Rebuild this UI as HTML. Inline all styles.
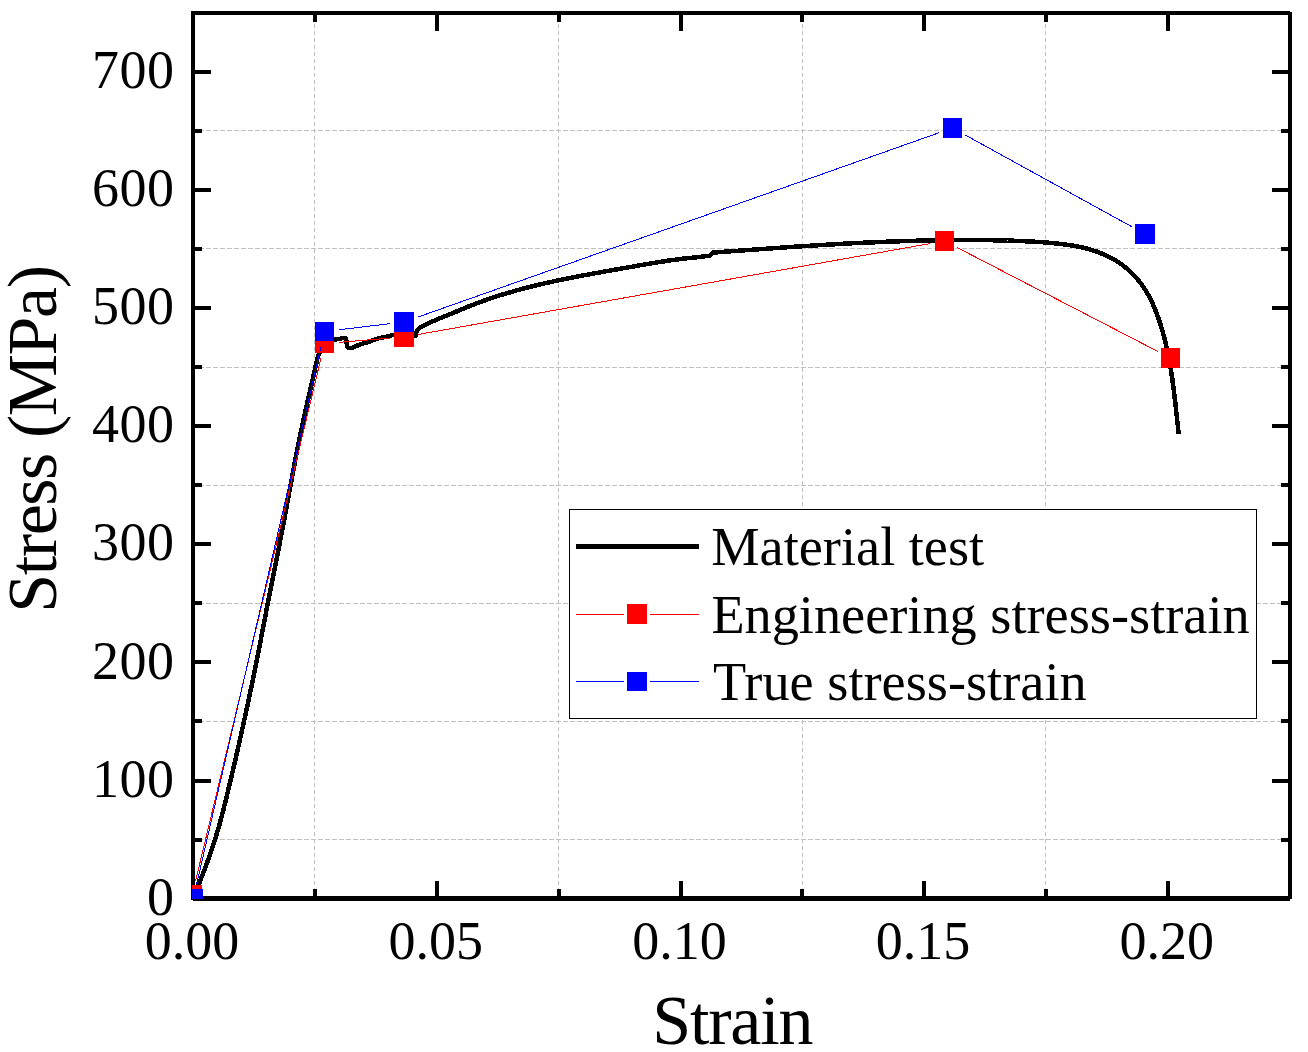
<!DOCTYPE html>
<html><head><meta charset="utf-8"><style>
html,body{margin:0;padding:0;background:#fff;}
svg{display:block;}
text{font-family:"Liberation Serif",serif;fill:#000;}
</style></head><body>
<svg width="1308" height="1052" viewBox="0 0 1308 1052">
<defs><clipPath id="c"><rect x="192" y="12" width="1098" height="887"/></clipPath></defs>
<rect width="1308" height="1052" fill="#fff"/>
<g stroke="#c0c0c0" stroke-width="1" stroke-dasharray="5 2" shape-rendering="crispEdges"><line x1="192" y1="130.5" x2="1289" y2="130.5"/><line x1="192" y1="248.5" x2="1289" y2="248.5"/><line x1="192" y1="367.5" x2="1289" y2="367.5"/><line x1="192" y1="485.5" x2="1289" y2="485.5"/><line x1="192" y1="603.5" x2="1289" y2="603.5"/><line x1="192" y1="721.5" x2="1289" y2="721.5"/><line x1="192" y1="839.5" x2="1289" y2="839.5"/></g>
<g stroke="#c0c0c0" stroke-width="1" stroke-dasharray="4 3.027" shape-rendering="crispEdges"><line x1="314.5" y1="16.973" x2="314.5" y2="896"/><line x1="558.5" y1="16.973" x2="558.5" y2="896"/><line x1="802.5" y1="16.973" x2="802.5" y2="896"/><line x1="1045.5" y1="16.973" x2="1045.5" y2="896"/></g>
<g shape-rendering="crispEdges"><rect x="191" y="11" width="4" height="889" fill="#000"/><rect x="1288" y="12" width="4" height="887" fill="#000"/><rect x="191" y="11" width="1099" height="4" fill="#000"/><rect x="193" y="896" width="1097" height="5" fill="#000"/><rect x="195" y="837.56" width="7" height="4" fill="#000"/><rect x="1281" y="837.56" width="7" height="4" fill="#000"/><rect x="195" y="778.52" width="16" height="4" fill="#000"/><rect x="1272" y="778.52" width="16" height="4" fill="#000"/><rect x="195" y="719.48" width="7" height="4" fill="#000"/><rect x="1281" y="719.48" width="7" height="4" fill="#000"/><rect x="195" y="660.43" width="16" height="4" fill="#000"/><rect x="1272" y="660.43" width="16" height="4" fill="#000"/><rect x="195" y="601.39" width="7" height="4" fill="#000"/><rect x="1281" y="601.39" width="7" height="4" fill="#000"/><rect x="195" y="542.35" width="16" height="4" fill="#000"/><rect x="1272" y="542.35" width="16" height="4" fill="#000"/><rect x="195" y="483.31" width="7" height="4" fill="#000"/><rect x="1281" y="483.31" width="7" height="4" fill="#000"/><rect x="195" y="424.27" width="16" height="4" fill="#000"/><rect x="1272" y="424.27" width="16" height="4" fill="#000"/><rect x="195" y="365.23" width="7" height="4" fill="#000"/><rect x="1281" y="365.23" width="7" height="4" fill="#000"/><rect x="195" y="306.18" width="16" height="4" fill="#000"/><rect x="1272" y="306.18" width="16" height="4" fill="#000"/><rect x="195" y="247.14" width="7" height="4" fill="#000"/><rect x="1281" y="247.14" width="7" height="4" fill="#000"/><rect x="195" y="188.10" width="16" height="4" fill="#000"/><rect x="1272" y="188.10" width="16" height="4" fill="#000"/><rect x="195" y="129.06" width="7" height="4" fill="#000"/><rect x="1281" y="129.06" width="7" height="4" fill="#000"/><rect x="195" y="70.02" width="16" height="4" fill="#000"/><rect x="1272" y="70.02" width="16" height="4" fill="#000"/><rect x="313.16" y="889" width="4" height="7" fill="#000"/><rect x="313.16" y="15" width="4" height="7" fill="#000"/><rect x="435.00" y="881" width="4" height="15" fill="#000"/><rect x="435.00" y="15" width="4" height="16" fill="#000"/><rect x="556.83" y="889" width="4" height="7" fill="#000"/><rect x="556.83" y="15" width="4" height="7" fill="#000"/><rect x="678.66" y="881" width="4" height="15" fill="#000"/><rect x="678.66" y="15" width="4" height="16" fill="#000"/><rect x="800.49" y="889" width="4" height="7" fill="#000"/><rect x="800.49" y="15" width="4" height="7" fill="#000"/><rect x="922.33" y="881" width="4" height="15" fill="#000"/><rect x="922.33" y="15" width="4" height="16" fill="#000"/><rect x="1044.16" y="889" width="4" height="7" fill="#000"/><rect x="1044.16" y="15" width="4" height="7" fill="#000"/><rect x="1165.99" y="881" width="4" height="15" fill="#000"/><rect x="1165.99" y="15" width="4" height="16" fill="#000"/></g>
<g clip-path="url(#c)">
<path d="M193.3,898.6 L194.2,895.6 L195.4,892.6 L196.7,889.6 L197.9,886.6 L199.1,883.6 L200.3,880.6 L201.4,877.6 L202.6,874.6 L203.8,871.6 L204.9,868.6 L206.0,865.6 L207.1,862.6 L208.2,859.6 L209.3,856.6 L210.4,853.6 L211.4,850.6 L212.4,847.6 L213.4,844.6 L214.4,841.6 L215.3,838.6 L216.2,835.6 L217.1,832.6 L218.0,829.6 L218.9,826.6 L219.7,823.6 L220.5,820.6 L221.3,817.6 L222.1,814.6 L222.9,811.6 L223.7,808.6 L224.4,805.6 L225.2,802.6 L225.9,799.6 L226.7,796.6 L227.4,793.6 L228.1,790.6 L228.8,787.6 L229.5,784.6 L230.3,781.6 L231.0,778.6 L231.7,775.6 L232.4,772.6 L233.1,769.6 L233.8,766.6 L234.5,763.6 L235.2,760.6 L235.9,757.6 L236.5,754.6 L237.2,751.6 L237.9,748.6 L238.6,745.6 L239.3,742.6 L239.9,739.6 L240.6,736.6 L241.3,733.6 L241.9,730.6 L242.6,727.6 L243.3,724.6 L243.9,721.6 L244.6,718.6 L245.2,715.6 L245.9,712.6 L246.5,709.6 L247.2,706.6 L247.8,703.6 L248.4,700.6 L249.1,697.6 L249.7,694.6 L250.3,691.6 L251.0,688.6 L251.6,685.6 L252.2,682.6 L252.8,679.6 L253.4,676.6 L254.0,673.6 L254.7,670.6 L255.3,667.6 L255.9,664.6 L256.5,661.6 L257.1,658.6 L257.7,655.6 L258.2,652.6 L258.8,649.6 L259.4,646.6 L260.0,643.6 L260.6,640.6 L261.2,637.6 L261.7,634.6 L262.3,631.6 L262.9,628.6 L263.5,625.6 L264.0,622.6 L264.6,619.6 L265.2,616.6 L265.8,613.6 L266.3,610.6 L266.9,607.6 L267.5,604.6 L268.1,601.6 L268.7,598.6 L269.2,595.6 L269.8,592.6 L270.4,589.6 L271.0,586.6 L271.6,583.6 L272.2,580.6 L272.8,577.6 L273.4,574.6 L274.0,571.6 L274.6,568.6 L275.2,565.6 L275.8,562.6 L276.4,559.6 L277.0,556.6 L277.6,553.6 L278.2,550.6 L278.8,547.6 L279.4,544.6 L279.9,541.6 L280.5,538.6 L281.1,535.6 L281.7,532.6 L282.3,529.6 L282.9,526.6 L283.4,523.6 L284.0,520.6 L284.6,517.6 L285.1,514.6 L285.7,511.6 L286.2,508.6 L286.8,505.6 L287.3,502.6 L287.9,499.6 L288.4,496.6 L289.0,493.6 L289.5,490.6 L290.1,487.6 L290.6,484.6 L291.2,481.6 L291.8,478.6 L292.3,475.6 L292.9,472.6 L293.4,469.6 L294.0,466.6 L294.6,463.6 L295.1,460.6 L295.7,457.6 L296.3,454.6 L296.9,451.6 L297.5,448.6 L298.1,445.6 L298.7,442.6 L299.3,439.6 L299.9,436.6 L300.5,433.6 L301.2,430.6 L301.8,427.6 L302.5,424.6 L303.1,421.6 L303.8,418.6 L304.4,415.6 L305.1,412.6 L305.8,409.6 L306.4,406.6 L307.1,403.6 L307.8,400.6 L308.5,397.6 L309.2,394.6 L309.9,391.6 L310.5,388.6 L311.2,385.6 L311.9,382.6 L312.6,379.6 L313.3,376.6 L314.0,373.6 L314.6,370.6 L315.3,367.6 L316.0,364.6 L316.7,361.6 L317.4,358.6 L318.0,355.6 L322.0,349.5 L325.5,345.0 L329.5,341.8 L334.0,339.6 L339.0,339.0 L343.5,337.8 L345.6,338.5 L346.4,341.0 L346.8,344.5 L347.6,347.3 L349.5,348.1 L351.2,348.1 L353.6,347.4 L357.3,345.6 L363.4,343.4 L369.5,341.6 L375.6,339.1 L381.7,337.6 L387.9,336.4 L393.4,334.9 L404.0,334.2 L412.5,335.8 L415.8,335.5 L416.4,332.5 L417.6,330.0 L419.6,327.8 L422.9,325.9 L426.3,324.2 L429.7,322.6 L433.2,321.1 L436.7,319.6 L440.2,318.2 L443.7,316.7 L447.3,315.3 L450.8,313.9 L454.3,312.4 L457.8,311.0 L461.3,309.5 L464.8,308.1 L468.3,306.6 L471.9,305.2 L475.4,303.8 L479.0,302.5 L482.5,301.2 L486.1,299.9 L489.7,298.7 L493.3,297.5 L496.9,296.3 L500.6,295.1 L504.2,294.0 L507.9,292.9 L511.5,291.9 L515.2,290.8 L518.8,289.8 L522.5,288.8 L526.2,287.9 L529.9,286.9 L533.5,286.0 L537.2,285.1 L540.9,284.2 L544.6,283.4 L548.3,282.6 L552.1,281.7 L555.8,280.9 L559.5,280.1 L563.2,279.4 L566.9,278.6 L570.7,277.9 L574.4,277.1 L578.1,276.4 L581.9,275.7 L585.6,275.0 L589.3,274.3 L593.1,273.6 L596.8,273.0 L600.6,272.3 L604.3,271.6 L608.1,270.9 L611.8,270.3 L615.5,269.6 L619.3,269.0 L623.0,268.3 L626.8,267.6 L630.5,267.0 L634.3,266.3 L638.0,265.6 L641.7,265.0 L645.5,264.3 L649.2,263.7 L653.0,263.1 L656.7,262.5 L660.5,261.9 L664.2,261.3 L668.0,260.7 L671.7,260.2 L675.5,259.7 L679.3,259.2 L683.0,258.7 L686.8,258.3 L690.6,257.9 L694.4,257.5 L698.2,257.1 L702.0,256.6 L705.7,256.2 L709.5,255.7 L712.6,252.7 L714.9,252.5 L717.1,252.3 L719.4,252.2 L721.7,252.0 L724.0,251.8 L726.3,251.6 L728.6,251.5 L730.9,251.3 L733.2,251.1 L735.5,251.0 L737.8,250.8 L740.1,250.6 L742.4,250.4 L744.7,250.3 L747.0,250.1 L749.3,249.9 L751.6,249.8 L753.9,249.6 L756.2,249.4 L758.5,249.3 L760.8,249.1 L763.1,248.9 L765.4,248.8 L767.7,248.6 L770.0,248.4 L772.3,248.3 L774.6,248.1 L776.9,247.9 L779.2,247.8 L781.5,247.6 L783.8,247.5 L786.1,247.3 L788.4,247.2 L790.7,247.0 L793.0,246.8 L795.3,246.7 L797.6,246.5 L799.9,246.4 L802.3,246.2 L804.6,246.1 L806.9,245.9 L809.2,245.8 L811.5,245.6 L813.8,245.5 L816.1,245.4 L818.4,245.2 L820.7,245.1 L823.0,244.9 L825.3,244.8 L827.6,244.7 L829.9,244.5 L832.2,244.4 L834.5,244.3 L836.8,244.1 L839.1,244.0 L841.5,243.9 L843.8,243.7 L846.1,243.6 L848.4,243.5 L850.7,243.4 L853.0,243.2 L855.3,243.1 L857.6,243.0 L859.9,242.9 L862.2,242.8 L864.5,242.7 L866.8,242.6 L869.1,242.5 L871.5,242.4 L873.8,242.3 L876.1,242.2 L878.4,242.1 L880.7,242.0 L883.0,241.9 L885.3,241.8 L887.6,241.7 L889.9,241.6 L892.2,241.5 L894.5,241.4 L896.8,241.3 L899.2,241.3 L901.5,241.2 L903.8,241.1 L906.1,241.0 L908.4,241.0 L910.7,240.9 L913.0,240.8 L915.3,240.8 L917.6,240.7 L919.9,240.6 L922.2,240.6 L924.5,240.5 L926.8,240.5 L929.1,240.4 L931.5,240.4 L933.8,240.3 L936.1,240.3 L938.4,240.3 L940.7,240.2 L943.0,240.2 L945.3,240.2 L947.6,240.1 L949.9,240.1 L952.2,240.1 L954.5,240.1 L956.8,240.1 L959.1,240.1 L961.4,240.1 L963.7,240.0 L966.0,240.0 L968.3,240.0 L970.6,240.0 L973.0,240.1 L975.3,240.1 L977.6,240.1 L979.9,240.1 L982.2,240.1 L984.5,240.1 L986.8,240.2 L989.1,240.2 L991.4,240.2 L993.7,240.3 L996.0,240.3 L998.3,240.3 L1000.6,240.4 L1002.9,240.4 L1005.2,240.5 L1007.5,240.6 L1009.8,240.6 L1012.1,240.7 L1014.4,240.8 L1016.7,240.9 L1019.0,240.9 L1021.3,241.0 L1023.6,241.1 L1025.9,241.3 L1028.2,241.4 L1030.5,241.5 L1032.8,241.6 L1035.1,241.8 L1037.4,241.9 L1039.8,242.1 L1042.1,242.2 L1044.4,242.4 L1046.7,242.6 L1049.0,242.8 L1051.3,243.0 L1053.6,243.2 L1056.0,243.5 L1058.3,243.7 L1060.6,244.0 L1062.9,244.2 L1065.2,244.5 L1067.5,244.8 L1069.8,245.2 L1072.1,245.5 L1074.4,245.9 L1076.7,246.4 L1079.0,246.8 L1081.2,247.3 L1083.5,247.8 L1085.7,248.3 L1087.9,248.9 L1090.2,249.5 L1092.4,250.2 L1094.5,250.9 L1096.7,251.6 L1098.9,252.4 L1101.0,253.3 L1103.1,254.1 L1105.2,255.1 L1107.3,256.0 L1109.4,257.1 L1111.4,258.1 L1113.4,259.2 L1115.4,260.4 L1117.3,261.6 L1119.2,262.9 L1121.1,264.1 L1123.0,265.5 L1124.8,266.9 L1126.5,268.3 L1128.3,269.8 L1130.0,271.3 L1131.6,272.9 L1133.2,274.5 L1134.8,276.2 L1136.3,277.9 L1137.8,279.6 L1139.3,281.4 L1140.7,283.2 L1142.0,285.1 L1143.3,287.0 L1144.6,288.9 L1145.8,290.9 L1147.0,292.9 L1148.2,294.9 L1149.3,296.9 L1150.3,299.0 L1151.4,301.0 L1152.4,303.1 L1153.3,305.2 L1154.2,307.4 L1155.1,309.5 L1156.0,311.7 L1156.8,313.8 L1157.6,316.0 L1158.4,318.2 L1159.1,320.4 L1159.9,322.6 L1160.6,324.8 L1161.3,327.0 L1161.9,329.2 L1162.6,331.4 L1163.2,333.6 L1163.8,335.9 L1164.4,338.1 L1165.0,340.3 L1165.5,342.6 L1166.0,344.8 L1166.6,347.1 L1167.1,349.3 L1167.5,351.6 L1168.0,353.8 L1168.5,356.1 L1168.9,358.4 L1169.3,360.6 L1169.7,362.9 L1170.1,365.2 L1170.5,367.5 L1170.9,369.7 L1171.2,372.0 L1171.6,374.3 L1171.9,376.6 L1172.3,378.9 L1172.6,381.2 L1172.9,383.4 L1173.2,385.7 L1173.5,388.0 L1173.8,390.3 L1174.1,392.6 L1174.4,394.9 L1174.6,397.2 L1174.9,399.5 L1175.2,401.8 L1175.4,404.1 L1175.7,406.4 L1175.9,408.7 L1176.2,411.0 L1176.4,413.3 L1176.7,415.5 L1176.9,417.8 L1177.2,420.1 L1177.4,422.4 L1177.7,424.7 L1177.9,427.0 L1178.2,429.3 L1178.4,431.5 L1178.7,433.8" fill="none" stroke="#000" stroke-width="4.5" stroke-linejoin="round" shape-rendering="crispEdges"/>
<path d="M195.68,880.60 L321.12,357.60 M338.95,342.32 L389.55,338.18 M418.28,334.46 L930.22,243.54 M957.38,247.67 L1157.62,351.33" fill="none" stroke="#f00" stroke-width="1" shape-rendering="crispEdges"/>
<g shape-rendering="crispEdges"><rect x="182.5" y="885" width="19.5" height="19.5" fill="#f00"/><rect x="315" y="334" width="19" height="19" fill="#f00"/><rect x="394" y="327" width="20" height="20" fill="#f00"/><rect x="935" y="231" width="19" height="20" fill="#f00"/><rect x="1161" y="348" width="19" height="20" fill="#f00"/></g>
<path d="M196.57,884.47 L321.23,345.63 M338.90,329.78 L389.60,323.72 M417.67,317.16 L938.83,132.84 M965.20,134.99 L1132.30,227.01" fill="none" stroke="#00f" stroke-width="1" shape-rendering="crispEdges"/>
<g shape-rendering="crispEdges"><rect x="183.5" y="889" width="19.5" height="19.5" fill="#00f"/><rect x="315" y="322" width="19" height="19" fill="#00f"/><rect x="394" y="312" width="20" height="20" fill="#00f"/><rect x="943" y="118" width="19" height="20" fill="#00f"/><rect x="1135" y="224" width="20" height="20" fill="#00f"/></g>
</g>
<g font-size="54" letter-spacing="0.5"><text x="174.6" y="915.3" text-anchor="end">0</text><text x="174.6" y="797.2" text-anchor="end">100</text><text x="174.6" y="679.2" text-anchor="end">200</text><text x="174.6" y="560.2" text-anchor="end">300</text><text x="174.6" y="442.1" text-anchor="end">400</text><text x="174.6" y="324.2" text-anchor="end">500</text><text x="174.6" y="206.1" text-anchor="end">600</text><text x="174.6" y="88.2" text-anchor="end">700</text><text x="192.1" y="958.6" text-anchor="middle" letter-spacing="0">0.00</text><text x="435.8" y="958.6" text-anchor="middle" letter-spacing="0">0.05</text><text x="679.5" y="958.6" text-anchor="middle" letter-spacing="0">0.10</text><text x="923.1" y="958.6" text-anchor="middle" letter-spacing="0">0.15</text><text x="1166.8" y="958.6" text-anchor="middle" letter-spacing="0">0.20</text></g>
<text x="652.2" y="1043.8" font-size="70" letter-spacing="-1.2">Strain</text>
<text transform="translate(56.3,612.7) rotate(-90)" x="0" y="0" font-size="70" letter-spacing="-1.45">Stress (MPa)</text>
<g>
<rect x="569.5" y="509.5" width="687" height="209" fill="#fff" stroke="#000" stroke-width="1"/>
<rect x="576" y="544" width="123" height="5" fill="#000" shape-rendering="crispEdges"/>
<g shape-rendering="crispEdges">
<rect x="576" y="614" width="48" height="1" fill="#f00"/><rect x="650" y="614" width="49" height="1" fill="#f00"/>
<rect x="627" y="604" width="20" height="20" fill="#f00"/>
<rect x="576" y="681" width="48" height="1" fill="#00f"/><rect x="650" y="681" width="49" height="1" fill="#00f"/>
<rect x="627" y="672" width="20" height="19" fill="#00f"/>
</g>
<g font-size="54.3">
<text x="711.3" y="565.4">Material test</text>
<text x="711.4" y="633.3">Engineering stress-strain</text>
<text x="713.1" y="700">True stress-strain</text>
</g>
</g>
</svg>
</body></html>
